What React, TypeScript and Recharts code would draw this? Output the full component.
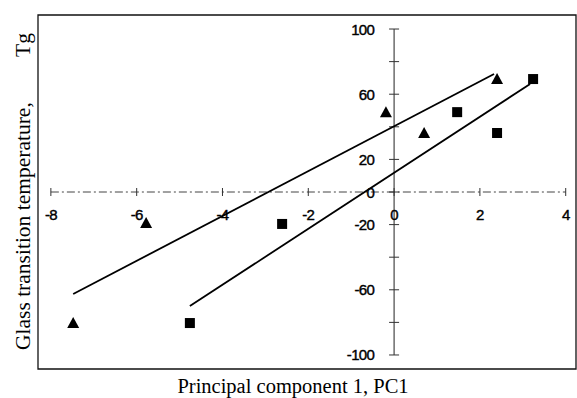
import React from "react";
import {
  ScatterChart,
  Scatter,
  XAxis,
  YAxis,
  ReferenceLine,
  ReferenceDot,
  ReferenceArea,
} from "recharts";

// measured points (PC1 vs Tg)
const triangles = [
  { x: -7.48, y: -80.4 },
  { x: -5.78, y: -19 },
  { x: -0.19, y: 49 },
  { x: 0.7, y: 36.2 },
  { x: 2.4, y: 69.3 },
];

const squares = [
  { x: -4.76, y: -80.4 },
  { x: -2.61, y: -19.6 },
  { x: 1.47, y: 49 },
  { x: 2.4, y: 36.2 },
  { x: 3.24, y: 69.3 },
];

// regression lines (end points)
const fitTriangles = [
  { x: -7.48, y: -62.6 },
  { x: 2.33, y: 72.4 },
];

const fitSquares = [
  { x: -4.76, y: -70 },
  { x: 3.17, y: 66.3 },
];

const xTicks = [-8, -6, -4, -2, 0, 2, 4];
const yTicks = [-100, -80, -60, -40, -20, 0, 20, 40, 60, 80, 100];
const yLabels = [100, 60, 20, 0, -20, -60, -100];

const X_DOMAIN: [number, number] = [-8.3, 4.24];
const Y_DOMAIN: [number, number] = [-108.6, 108.6];

const tickFont = {
  fontFamily: "'Liberation Sans', Arial, sans-serif",
  fontSize: 15,
  letterSpacing: -0.7,
};

const Triangle = (p: any) => (
  <polygon
    points={`${p.cx - 6},${p.cy + 5} ${p.cx + 6},${p.cy + 5} ${p.cx},${p.cy - 6}`}
    fill="#000"
  />
);

const Square = (p: any) => (
  <rect x={p.cx - 5} y={p.cy - 5} width={10} height={10} fill="#000" />
);

const NoDot = () => <g />;

function xTickShape(label: number) {
  return (p: any) => (
    <g>
      <line x1={p.cx} y1={p.cy - 4} x2={p.cx} y2={p.cy + 4} stroke="#333" strokeWidth={1} />
      <text
        x={p.cx}
        y={p.cy + 22}
        textAnchor="middle"
        dominantBaseline="central"
        fill="#000"
        stroke="#000"
        strokeWidth={0.4}
        style={tickFont}
      >
        {label}
      </text>
    </g>
  );
}

function yTickShape(label: number | null) {
  return (p: any) => (
    <g>
      <line x1={p.cx - 5} y1={p.cy} x2={p.cx + 5} y2={p.cy} stroke="#333" strokeWidth={1} />
      {label !== null && (
        <text
          x={p.cx - 20}
          y={p.cy}
          textAnchor="end"
          dominantBaseline="central"
          fill="#000"
          stroke="#000"
          strokeWidth={0.4}
          style={tickFont}
        >
          {label}
        </text>
      )}
    </g>
  );
}

export default function App() {
  return (
    <div style={{ position: "absolute", left: 0, top: 0, width: 577, height: 398, background: "#fff" }}>
      <ScatterChart
        width={577}
        height={398}
        margin={{ top: 15, right: 1, bottom: 29, left: 38 }}
      >
        <XAxis type="number" dataKey="x" domain={X_DOMAIN} hide allowDataOverflow />
        <YAxis type="number" dataKey="y" domain={Y_DOMAIN} hide allowDataOverflow />

        <ReferenceArea
          x1={X_DOMAIN[0]}
          x2={X_DOMAIN[1]}
          y1={Y_DOMAIN[0]}
          y2={Y_DOMAIN[1]}
          fill="none"
          fillOpacity={0}
          stroke="#111"
          strokeWidth={1.3}
        />

        {/* axes crossing at the origin */}
        <ReferenceLine
          segment={[{ x: -8, y: 0 }, { x: 4, y: 0 }]}
          stroke="#444"
          strokeWidth={1}
          strokeDasharray="8 3 2 3"
        />
        <ReferenceLine
          segment={[{ x: 0, y: -100 }, { x: 0, y: 100 }]}
          stroke="#222"
          strokeWidth={1}
        />

        {xTicks.map((t) => (
          <ReferenceDot key={`xt${t}`} x={t} y={0} r={0} shape={xTickShape(t)} />
        ))}
        {yTicks.map((t) => (
          <ReferenceDot
            key={`yt${t}`}
            x={0}
            y={t}
            r={0}
            shape={yTickShape(yLabels.includes(t) ? t : null)}
          />
        ))}

        <Scatter
          data={fitTriangles}
          line={{ stroke: "#000", strokeWidth: 1.8 }}
          shape={NoDot}
          isAnimationActive={false}
        />
        <Scatter
          data={fitSquares}
          line={{ stroke: "#000", strokeWidth: 1.8 }}
          shape={NoDot}
          isAnimationActive={false}
        />
        <Scatter data={triangles} shape={Triangle} isAnimationActive={false} />
        <Scatter data={squares} shape={Square} isAnimationActive={false} />
      </ScatterChart>

      <svg
        width={577}
        height={398}
        style={{ position: "absolute", left: 0, top: 0, pointerEvents: "none" }}
      >
        <g style={{ fontFamily: "'Liberation Serif', 'Times New Roman', serif" }} fill="#000">
          <text x={293} y={393} textAnchor="middle" fontSize={20.5}>
            Principal component 1, PC1
          </text>
          <text transform="translate(30,350) rotate(-90)" textAnchor="start" fontSize={21.5}>
            Glass transition temperature,
          </text>
          <text transform="translate(30,33) rotate(-90)" textAnchor="end" fontSize={21.5}>
            Tg
          </text>
        </g>
      </svg>
    </div>
  );
}
